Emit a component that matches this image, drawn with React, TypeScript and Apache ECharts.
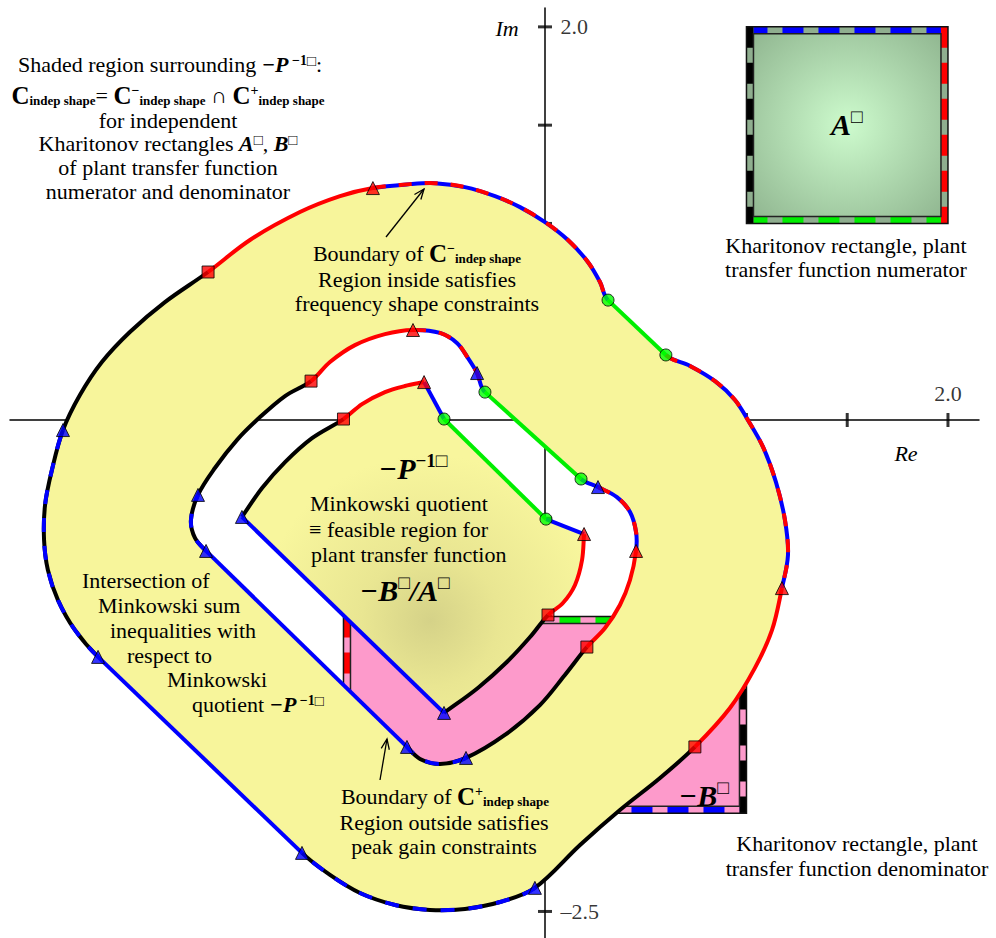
import React, { useEffect, useRef } from "react";
import * as echarts from "echarts";

type P = [number, number];

// ---------- axes (data units) ----------
const RE_MIN = -2.655, RE_MAX = 2.154;
const IM_MIN = -2.635, IM_MAX = 2.096;
const reTicks = [0.5, 1.0, 1.5, 2.0];
const imTicks = [2.0, 1.5, 1.0, 0.5, -0.5, -1.0, -1.5, -2.0, -2.5];
const reTickLabels: [number, string][] = [[2.0, "2.0"]];
const imTickLabels: [number, string][] = [[2.0, "2.0"], [-2.5, "\u20132.5"]];

// ---------- outer boundary (C- indep shape) ----------
const outerRedTop: P[] = [[-1.672, 0.753], [-1.464, 0.916], [-1.216, 1.058], [-1.017, 1.139], [-0.854, 1.18]];
const outerDashTop: P[] = [[-0.854, 1.18], [-0.67, 1.2], [-0.546, 1.205], [-0.397, 1.185], [-0.248, 1.139], [-0.124, 1.083], [0, 1.007], [0.114, 0.916], [0.213, 0.804], [0.273, 0.702], [0.313, 0.61]];
const outerGreen: P[] = [[0.313, 0.61], [0.6, 0.331]];
const outerDashRight: P[] = [[0.6, 0.331], [0.72, 0.275], [0.844, 0.198], [0.943, 0.102], [1.007, 0], [1.082, -0.137], [1.146, -0.315], [1.191, -0.509], [1.206, -0.687], [1.176, -0.855]];
const outerRedRight: P[] = [[1.176, -0.855], [1.127, -1.068], [1.042, -1.261], [0.918, -1.465], [0.744, -1.663]];
const outerBlackBottom: P[] = [[0.744, -1.663], [0.571, -1.821], [0.372, -1.984], [0.174, -2.162], [-0.05, -2.38]];
const outerDashBottom: P[] = [[-0.05, -2.38], [-0.223, -2.452], [-0.397, -2.487], [-0.571, -2.492], [-0.744, -2.467], [-0.918, -2.406], [-1.067, -2.314], [-1.206, -2.202]];
const outerBlueLine: P[] = [[-1.206, -2.202], [-2.218, -1.205]];
const outerDashLeft: P[] = [[-2.218, -1.205], [-2.333, -1.068], [-2.417, -0.916], [-2.467, -0.763], [-2.486, -0.61], [-2.481, -0.432], [-2.447, -0.254], [-2.392, -0.051]];
const outerBlackLeft: P[] = [[-2.392, -0.051], [-2.308, 0.127], [-2.199, 0.295], [-2.06, 0.448], [-1.886, 0.6], [-1.672, 0.753]];

// ---------- middle boundary (C+ indep shape) ----------
const midRedTop: P[] = [[-1.161, 0.198], [-1.067, 0.295], [-0.943, 0.381], [-0.794, 0.437], [-0.655, 0.458]];
const midDashTop: P[] = [[-0.655, 0.458], [-0.521, 0.443], [-0.437, 0.392], [-0.382, 0.315], [-0.337, 0.239], [-0.298, 0.142]];
const midGreen: P[] = [[-0.298, 0.142], [0.179, -0.3]];
const midBlueShort: P[] = [[0.179, -0.3], [0.263, -0.341]];
const midDashRight: P[] = [[0.263, -0.341], [0.357, -0.392], [0.422, -0.468], [0.452, -0.57], [0.452, -0.666]];
const midRedRight: P[] = [[0.452, -0.666], [0.422, -0.814], [0.372, -0.941], [0.298, -1.058], [0.208, -1.155]];
const midBlackBottom: P[] = [[0.208, -1.155], [0.099, -1.297], [-0.025, -1.45], [-0.199, -1.602], [-0.392, -1.719]];
const midDashBottom: P[] = [[-0.392, -1.719], [-0.521, -1.75], [-0.62, -1.724], [-0.685, -1.663]];
const midBlueLine: P[] = [[-0.685, -1.663], [-1.682, -0.666]];
const midDashLeft: P[] = [[-1.682, -0.666], [-1.737, -0.6], [-1.757, -0.509], [-1.722, -0.381]];
const midBlackLeft: P[] = [[-1.722, -0.381], [-1.638, -0.244], [-1.529, -0.102], [-1.414, 0.015], [-1.29, 0.122], [-1.161, 0.198]];

// ---------- inner boundary (Minkowski quotient -P^-1) ----------
const innRedTop: P[] = [[-1.0, 0.005], [-0.908, 0.081], [-0.794, 0.142], [-0.695, 0.173], [-0.6, 0.193]];
const innBlueTop: P[] = [[-0.6, 0.193], [-0.501, 0.005]];
const innGreen: P[] = [[-0.501, 0.005], [0.005, -0.504]];
const innBlueRight: P[] = [[0.005, -0.504], [0.194, -0.58]];
const innRedRight: P[] = [[0.194, -0.58], [0.184, -0.712], [0.149, -0.839], [0.089, -0.931], [0.015, -0.992]];
const innBlackBottom: P[] = [[0.015, -0.992], [-0.074, -1.104], [-0.189, -1.231], [-0.333, -1.363], [-0.501, -1.49]];
const innBlueLine: P[] = [[-0.501, -1.49], [-1.504, -0.493]];
const innBlackLeft: P[] = [[-1.504, -0.493], [-1.404, -0.346], [-1.29, -0.214], [-1.156, -0.092], [-1.0, 0.005]];

// ---------- markers ----------
const redSquares: P[] = [[-1.672, 0.753], [0.744, -1.663], [-1.161, 0.198], [0.208, -1.155], [-1.0, 0.005], [0.015, -0.992]];
const redTriangles: P[] = [[-0.854, 1.18], [1.176, -0.855], [-0.655, 0.458], [0.452, -0.666], [-0.6, 0.193], [0.194, -0.58]];
const blueTriangles: P[] = [[-0.05, -2.38], [-1.206, -2.202], [-2.218, -1.205], [-2.392, -0.051], [-0.337, 0.239], [0.263, -0.341], [-0.392, -1.719], [-0.685, -1.663], [-1.682, -0.666], [-1.722, -0.381], [-0.501, -1.49], [-1.504, -0.493]];
const greenCircles: P[] = [[0.313, 0.61], [0.6, 0.331], [-0.298, 0.142], [0.179, -0.3], [-0.501, 0.005], [0.005, -0.504]];

// ---------- Kharitonov rectangles ----------
const aRectRe: P = [1.0, 2.0];
const aRectIm: P = [1.0, 2.0];
const bRectRe: P = [-1.0, 1.0];
const bRectIm: P = [-2.0, -1.0];

type Piece = { pts: P[]; s: string; straight?: boolean; corner?: boolean };
type Seg = { a: number[]; b: number[]; c1?: number[]; c2?: number[]; piece: number };

const outerPieces: Piece[] = [
  { pts: outerRedTop, s: "R" },
  { pts: outerDashTop, s: "RB" },
  { pts: outerGreen, s: "G", straight: true },
  { pts: outerDashRight, s: "RB" },
  { pts: outerRedRight, s: "R" },
  { pts: outerBlackBottom, s: "K" },
  { pts: outerDashBottom, s: "BK" },
  { pts: outerBlueLine, s: "B", straight: true },
  { pts: outerDashLeft, s: "BK" },
  { pts: outerBlackLeft, s: "K" },
];
const middlePieces: Piece[] = [
  { pts: midRedTop, s: "R" },
  { pts: midDashTop, s: "RB" },
  { pts: midGreen, s: "G", straight: true },
  { pts: midBlueShort, s: "B" },
  { pts: midDashRight, s: "RB" },
  { pts: midRedRight, s: "R" },
  { pts: midBlackBottom, s: "K" },
  { pts: midDashBottom, s: "BK" },
  { pts: midBlueLine, s: "B", straight: true },
  { pts: midDashLeft, s: "BK" },
  { pts: midBlackLeft, s: "K" },
];
const innerPieces: Piece[] = [
  { pts: innRedTop, s: "R" },
  { pts: innBlueTop, s: "B", straight: true, corner: true },
  { pts: innGreen, s: "G", straight: true, corner: true },
  { pts: innBlueRight, s: "B", straight: true, corner: true },
  { pts: innRedRight, s: "R", corner: true },
  { pts: innBlackBottom, s: "K" },
  { pts: innBlueLine, s: "B", straight: true, corner: true },
  { pts: innBlackLeft, s: "K", corner: true },
];

const STROKES: Record<string, { stroke: string; lineDash?: number[] }[]> = {
  R: [{ stroke: "#ff0000" }],
  K: [{ stroke: "#000000" }],
  B: [{ stroke: "#0000ff" }],
  G: [{ stroke: "#00ee00" }],
  RB: [{ stroke: "#0000ff" }, { stroke: "#ff0000", lineDash: [13, 13] }],
  BK: [{ stroke: "#000000" }, { stroke: "#0000ff", lineDash: [14, 14] }],
};

function buildSegs(pieces: Piece[], coord: (p: P) => number[]): Seg[] {
  const v: number[][] = [], straight: boolean[] = [], owner: number[] = [], corner: boolean[] = [];
  pieces.forEach((pc, k) => {
    for (let i = 0; i < pc.pts.length - 1; i++) {
      v.push(coord(pc.pts[i]));
      straight.push(!!pc.straight);
      owner.push(k);
      corner.push(i === 0 && !!pc.corner);
    }
  });
  const n = v.length;
  const unit = (dx: number, dy: number) => {
    const l = Math.hypot(dx, dy) || 1;
    return [dx / l, dy / l];
  };
  const tin: number[][] = [], tout: number[][] = [];
  for (let i = 0; i < n; i++) {
    const p = v[(i - 1 + n) % n], c = v[i], q = v[(i + 1) % n];
    const dIn = unit(c[0] - p[0], c[1] - p[1]);
    const dOut = unit(q[0] - c[0], q[1] - c[1]);
    const sIn = straight[(i - 1 + n) % n], sOut = straight[i];
    if (corner[i]) { tin[i] = dIn; tout[i] = dOut; }
    else if (sIn && !sOut) { tin[i] = dIn; tout[i] = dIn; }
    else if (sOut && !sIn) { tin[i] = dOut; tout[i] = dOut; }
    else { const t = unit(q[0] - p[0], q[1] - p[1]); tin[i] = t; tout[i] = t; }
  }
  const segs: Seg[] = [];
  for (let i = 0; i < n; i++) {
    const a = v[i], b = v[(i + 1) % n];
    const L = Math.hypot(b[0] - a[0], b[1] - a[1]) / 3;
    if (straight[i]) segs.push({ a, b, piece: owner[i] });
    else {
      const t1 = tout[i], t2 = tin[(i + 1) % n];
      segs.push({ a, b, c1: [a[0] + t1[0] * L, a[1] + t1[1] * L], c2: [b[0] - t2[0] * L, b[1] - t2[1] * L], piece: owner[i] });
    }
  }
  return segs;
}

const fx = (x: number) => x.toFixed(2);
function segPath(segs: Seg[], reverse: boolean, close: boolean): string {
  const list = reverse
    ? segs.slice().reverse().map((g) => ({ a: g.b, b: g.a, c1: g.c2, c2: g.c1, piece: g.piece }))
    : segs;
  let d = "";
  list.forEach((g, i) => {
    if (i === 0) d += `M${fx(g.a[0])} ${fx(g.a[1])}`;
    d += g.c1 && g.c2
      ? `C${fx(g.c1[0])} ${fx(g.c1[1])} ${fx(g.c2[0])} ${fx(g.c2[1])} ${fx(g.b[0])} ${fx(g.b[1])}`
      : `L${fx(g.b[0])} ${fx(g.b[1])}`;
  });
  return close ? d + "Z" : d;
}

const YELLOW = "#f7f59b";
const F = "'Liberation Serif','Times New Roman',serif";

function fillRender(_params: any, api: any) {
  const c = (p: P) => api.coord(p) as number[];
  const outer = buildSegs(outerPieces, c);
  const middle = buildSegs(middlePieces, c);
  const inner = buildSegs(innerPieces, c);
  return {
    type: "group",
    children: [
      { type: "path", shape: { pathData: segPath(outer, false, true) + segPath(middle, true, true) }, style: { fill: YELLOW } },
      {
        type: "path",
        shape: { pathData: segPath(inner, false, true) },
        style: {
          fill: new echarts.graphic.RadialGradient(0.55, 0.72, 0.5, [
            { offset: 0, color: "#d5d288" },
            { offset: 0.4, color: "#e9e692" },
            { offset: 1, color: "#f8f69d" },
          ]),
        },
      },
    ],
  };
}

function strokeRender(_params: any, api: any) {
  const c = (p: P) => api.coord(p) as number[];
  const children: any[] = [];
  for (const loop of [outerPieces, middlePieces, innerPieces]) {
    const segs = buildSegs(loop, c);
    loop.forEach((pc, k) => {
      const d = segPath(segs.filter((s) => s.piece === k), false, false);
      for (const st of STROKES[pc.s]) {
        children.push({
          type: "path",
          shape: { pathData: d },
          style: { fill: "none", stroke: st.stroke, lineWidth: 4, lineDash: st.lineDash, lineCap: "butt", lineJoin: "round" },
        });
      }
    });
  }
  return { type: "group", children };
}

function rectEls(api: any, re: P, im: P, fill: any, gap: string, edges: { top: string; right: string; bottom: string; left: string }) {
  const [x0, y0] = api.coord([re[0], im[1]]);
  const [x1, y1] = api.coord([re[1], im[0]]);
  const w = 7, h = w / 2;
  const dash = [21, 15];
  const lines: [number, number, number, number, string][] = [
    [x0, y0 + h, x1, y0 + h, edges.top],
    [x0, y1 - h, x1, y1 - h, edges.bottom],
    [x0 + h, y0, x0 + h, y1, edges.left],
    [x1 - h, y0, x1 - h, y1, edges.right],
  ];
  const els: any[] = [{ type: "rect", shape: { x: x0, y: y0, width: x1 - x0, height: y1 - y0 }, style: { fill } }];
  for (const [ax, ay, bx, by, col] of lines) {
    els.push({ type: "line", shape: { x1: ax, y1: ay, x2: bx, y2: by }, style: { stroke: gap, lineWidth: w } });
    els.push({ type: "line", shape: { x1: ax, y1: ay, x2: bx, y2: by }, style: { stroke: col, lineWidth: w, lineDash: dash } });
  }
  els.push({ type: "rect", shape: { x: x0, y: y0, width: x1 - x0, height: y1 - y0 }, style: { fill: "none", stroke: "#111", lineWidth: 1.5 } });
  els.push({ type: "rect", shape: { x: x0 + w, y: y0 + w, width: x1 - x0 - 2 * w, height: y1 - y0 - 2 * w }, style: { fill: "none", stroke: "#222", lineWidth: 1.5 } });
  return els;
}

function rectRender(_params: any, api: any) {
  return {
    type: "group",
    children: [
      ...rectEls(api, bRectRe, bRectIm, "#fd9acb", "#fd9acb", { top: "#00ee00", right: "#000000", bottom: "#0000ff", left: "#ff0000" }),
      ...rectEls(
        api, aRectRe, aRectIm,
        new echarts.graphic.RadialGradient(0.5, 0.5, 0.72, [
          { offset: 0, color: "#cdfbcd" },
          { offset: 1, color: "#8bb08b" },
        ]),
        "#8fae8f",
        { top: "#0000ff", right: "#ff0000", bottom: "#00ee00", left: "#000000" }
      ),
    ],
  };
}

const RICH: any = {
  n: { fontFamily: F, fontSize: 22, lineHeight: 22, fill: "#000" },
  i: { fontFamily: F, fontSize: 22, fontStyle: "italic", lineHeight: 22, fill: "#000" },
  bi: { fontFamily: F, fontSize: 22, fontWeight: "bold", fontStyle: "italic", lineHeight: 22, fill: "#000" },
  bC: { fontFamily: F, fontSize: 25, fontWeight: "bold", lineHeight: 24, fill: "#000" },
  sup: { fontFamily: F, fontSize: 14, fontWeight: "bold", verticalAlign: "top", lineHeight: 12, fill: "#000" },
  supn: { fontFamily: F, fontSize: 15, verticalAlign: "top", lineHeight: 13, fill: "#000" },
  sub: { fontFamily: F, fontSize: 13, fontWeight: "bold", verticalAlign: "bottom", lineHeight: 11, fill: "#000" },
  BI: { fontFamily: F, fontSize: 30, fontWeight: "bold", fontStyle: "italic", lineHeight: 34, fill: "#000" },
  SUP: { fontFamily: F, fontSize: 19, fontWeight: "bold", verticalAlign: "top", lineHeight: 17, fill: "#000" },
  BOX: { fontFamily: F, fontSize: 19, verticalAlign: "top", lineHeight: 17, fill: "#000" },
};

function T(x: number, y: number, text: string, align: "left" | "center" = "center") {
  return {
    type: "text", x, y, z: 100, silent: true,
    style: { text, rich: RICH, align, verticalAlign: "middle", fontFamily: F, fontSize: 22, fill: "#000" },
  };
}

function arrow(x1: number, y1: number, x2: number, y2: number) {
  const a = Math.atan2(y1 - y2, x1 - x2), L = 11, s = 0.38;
  return [
    { type: "line", z: 100, silent: true, shape: { x1, y1, x2, y2 }, style: { stroke: "#000", lineWidth: 1.3 } },
    {
      type: "polyline", z: 100, silent: true,
      shape: { points: [[x2 + L * Math.cos(a + s), y2 + L * Math.sin(a + s)], [x2, y2], [x2 + L * Math.cos(a - s), y2 + L * Math.sin(a - s)]] },
      style: { stroke: "#000", fill: "none", lineWidth: 1.3 },
    },
  ];
}

const M = "\u2212";
const texts = [
  T(170, 64, `{n|Shaded region surrounding }{bi|${M}P}{sup| ${M}1}{supn|\u25A1}{n|:}`),
  T(168, 95, `{bC|C}{sub|indep shape}{n|= }{bC|C}{sup|${M}}{sub|indep shape}{n| \u2229 }{bC|C}{sup|+}{sub|indep shape}`),
  T(168, 120, "{n|for independent}"),
  T(168, 143, "{n|Kharitonov rectangles }{bi|A}{supn|\u25A1}{n|, }{bi|B}{supn|\u25A1}"),
  T(168, 167, "{n|of plant transfer function}"),
  T(168, 191, "{n|numerator and denominator}"),
  T(507, 28, "{i|Im}"),
  T(906, 453, "{i|Re}"),
  T(417, 253, `{n|Boundary of }{bC|C}{sup|${M}}{sub|indep shape}`),
  T(417, 279, "{n|Region inside satisfies}"),
  T(417, 303, "{n|frequency shape constraints}"),
  T(831, 124, "{BI|A}{BOX|\u25A1}", "left"),
  T(846, 245, "{n|Kharitonov rectangle, plant}"),
  T(846, 269, "{n|transfer function numerator}"),
  T(379, 468, `{BI|${M}P}{SUP|${M}1}{BOX|\u25A1}`, "left"),
  T(310, 503, "{n|Minkowski quotient}", "left"),
  T(309, 529, "{n|\u2261 feasible region for}", "left"),
  T(311, 554, "{n|plant transfer function}", "left"),
  T(360, 590, `{BI|${M}B}{BOX|\u25A1}{BI|/A}{BOX|\u25A1}`, "left"),
  T(82, 580, "{n|Intersection of}", "left"),
  T(98, 605, "{n|Minkowski sum}", "left"),
  T(110, 630, "{n|inequalities with}", "left"),
  T(127, 655, "{n|respect to}", "left"),
  T(167, 679, "{n|Minkowski}", "left"),
  T(192, 704, `{n|quotient }{bi|${M}P}{sup| ${M}1}{supn|\u25A1}`, "left"),
  T(445, 796, `{n|Boundary of }{bC|C}{sup|+}{sub|indep shape}`),
  T(444, 822, "{n|Region outside satisfies}"),
  T(444, 846, "{n|peak gain constraints}"),
  T(679, 795, `{BI|${M}B}{BOX|\u25A1}`, "left"),
  T(857, 843, "{n|Kharitonov rectangle, plant}"),
  T(857, 868, "{n|transfer function denominator}"),
  ...arrow(386, 237, 424, 189),
  ...arrow(380, 780, 387, 739),
];

const markerStyle = { borderColor: "#000", borderWidth: 1 };

const option: any = {
  animation: false,
  grid: { left: 10, right: 17, top: 8, bottom: 0, containLabel: false },
  xAxis: {
    type: "value", min: RE_MIN, max: RE_MAX,
    axisLine: { show: true, onZero: true, lineStyle: { color: "#000", width: 1.5 } },
    axisTick: { show: false }, axisLabel: { show: false }, splitLine: { show: false },
  },
  yAxis: {
    type: "value", min: IM_MIN, max: IM_MAX,
    axisLine: { show: true, onZero: true, lineStyle: { color: "#000", width: 1.5 } },
    axisTick: { show: false }, axisLabel: { show: false }, splitLine: { show: false },
  },
  graphic: { elements: texts },
  series: [
    {
      type: "scatter", z: 1, silent: true, symbol: "rect", symbolSize: [3, 14],
      itemStyle: { color: "#000" }, data: reTicks.map((v) => [v, 0]),
    },
    {
      type: "scatter", z: 1, silent: true, symbol: "rect", symbolSize: [14, 3],
      itemStyle: { color: "#000" }, data: imTicks.map((v) => [0, v]),
    },
    { type: "custom", z: 2, silent: true, renderItem: rectRender, data: [[0, 0]] },
    { type: "custom", z: 3, silent: true, renderItem: fillRender, data: [[0, 0]] },
    { type: "custom", z: 4, silent: true, renderItem: strokeRender, data: [[0, 0]] },
    { type: "scatter", z: 5, silent: true, symbol: "rect", symbolSize: 12, itemStyle: { color: "#ff0000", ...markerStyle }, data: redSquares },
    { type: "scatter", z: 5, silent: true, symbol: "triangle", symbolSize: 13, itemStyle: { color: "#ff0000", ...markerStyle }, data: redTriangles },
    { type: "scatter", z: 5, silent: true, symbol: "triangle", symbolSize: 13, itemStyle: { color: "#0000ff", ...markerStyle }, data: blueTriangles },
    { type: "scatter", z: 5, silent: true, symbol: "circle", symbolSize: 12, itemStyle: { color: "#00ff00", ...markerStyle }, data: greenCircles },
    {
      type: "scatter", z: 6, silent: true, symbolSize: 1, itemStyle: { color: "rgba(0,0,0,0)" },
      label: { show: true, fontFamily: F, fontSize: 22, color: "#000", position: "top", distance: 15 },
      data: reTickLabels.map(([v, t]) => ({ value: [v, 0], label: { formatter: t } })),
    },
    {
      type: "scatter", z: 6, silent: true, symbolSize: 1, itemStyle: { color: "rgba(0,0,0,0)" },
      label: { show: true, fontFamily: F, fontSize: 22, color: "#000", position: "right", distance: 15 },
      data: imTickLabels.map(([v, t]) => ({ value: [0, v], label: { formatter: t } })),
    },
  ],
};

export default function App() {
  const ref = useRef<HTMLDivElement>(null);
  useEffect(() => {
    document.body.style.margin = "0";
    const chart = echarts.init(ref.current as HTMLDivElement, null, { renderer: "svg" });
    chart.setOption(option);
    return () => chart.dispose();
  }, []);
  return <div ref={ref} style={{ width: 996, height: 938 }} />;
}
